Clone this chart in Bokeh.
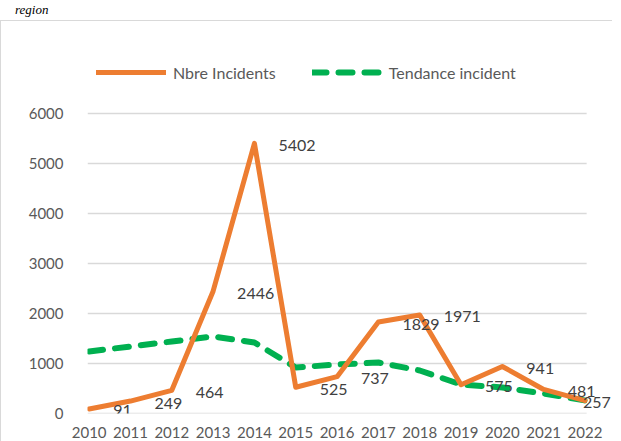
from bokeh.plotting import figure
from bokeh.models import (ColumnDataSource, LabelSet, Legend, LegendItem,
                          FixedTicker, Range1d, Div)
from bokeh.layouts import column
from bokeh.core.properties import value
from bokeh.embed import file_html
from bokeh.resources import INLINE

years = [2010, 2011, 2012, 2013, 2014, 2015, 2016, 2017, 2018, 2019, 2020, 2021, 2022]
incidents = [91, 249, 464, 2446, 5402, 525, 737, 1829, 1971, 575, 941, 481, 257]
tendance = [1240, 1340, 1440, 1540, 1420, 920, 980, 1020, 860, 580, 520, 400, 260]
y_ticks = [0, 1000, 2000, 3000, 4000, 5000, 6000]

ORANGE = "#ED7D31"
GREEN = "#00B050"
GRAY = "#595959"
GRID = "#d9d9d9"
FONT = "Lato"

W, H = 612, 422
x0, x1 = 2009.96, 2022.04
p = figure(width=W, height=H, output_backend="svg", toolbar_location=None,
           x_range=Range1d(x0, 2022.69), y_range=Range1d(0, 7680),
           min_border_left=86, min_border_right=0, min_border_top=8,
           min_border_bottom=30, background_fill_color="white",
           border_fill_color="white")
p.styles = {"border-left": "1px solid " + GRID, "border-top": "1px solid " + GRID}
p.outline_line_color = None

p.xgrid.grid_line_color = None
p.ygrid.grid_line_color = None
# horizontal gridlines, limited to the category span
p.segment(x0=[x0] * len(y_ticks), x1=[x1] * len(y_ticks), y0=y_ticks, y1=y_ticks,
          line_color=GRID, line_width=1.5)

for ax in (p.xaxis[0], p.yaxis[0]):
    ax.axis_line_color = None
    ax.major_tick_line_color = None
    ax.minor_tick_line_color = None
    ax.major_label_text_color = GRAY
    ax.major_label_text_font = FONT
    ax.major_label_text_font_size = "15px"
p.xaxis[0].ticker = FixedTicker(ticks=years)
p.xaxis[0].major_label_standoff = 7
p.yaxis[0].ticker = FixedTicker(ticks=y_ticks)
p.yaxis[0].major_label_standoff = 18

src = ColumnDataSource(dict(x=years, y=incidents, t=tendance,
                            lab=[str(v) for v in incidents],
                            dx=[24] * (len(years) - 1) + [-2]))

r_trend = p.line("x", "t", source=src, line_color=GREEN, line_width=6,
                 line_dash="14 12", line_cap="round", line_join="round")
r_inc = p.line("x", "y", source=src, line_color=ORANGE, line_width=5,
               line_join="round", line_cap="round")

labels = LabelSet(x="x", y="y", text="lab", source=src, x_offset="dx",
                  y_offset=-2, text_align="left", text_baseline="middle",
                  text_font=value(FONT), text_font_size=value("16px"),
                  text_color="#404040")
p.add_layout(labels)

legend = Legend(items=[LegendItem(label="Nbre Incidents", renderers=[r_inc]),
                       LegendItem(label="Tendance incident", renderers=[r_trend])],
                orientation="horizontal", location=(9, 331),
                glyph_width=70, glyph_height=20, label_standoff=7, spacing=36,
                padding=0, margin=0, border_line_color=None,
                background_fill_alpha=0, label_text_font=FONT,
                label_text_font_size="16px", label_text_color=GRAY)
p.add_layout(legend, "center")

title = Div(text="region", width=200, height=10,
            styles={"font-family": "Liberation Serif", "font-style": "italic",
                    "font-size": "13px", "line-height": "10px", "color": "black",
                    "padding-left": "10px"})

layout = column(title, p, spacing=0)
open("out.html", "w").write(file_html(layout, INLINE))
